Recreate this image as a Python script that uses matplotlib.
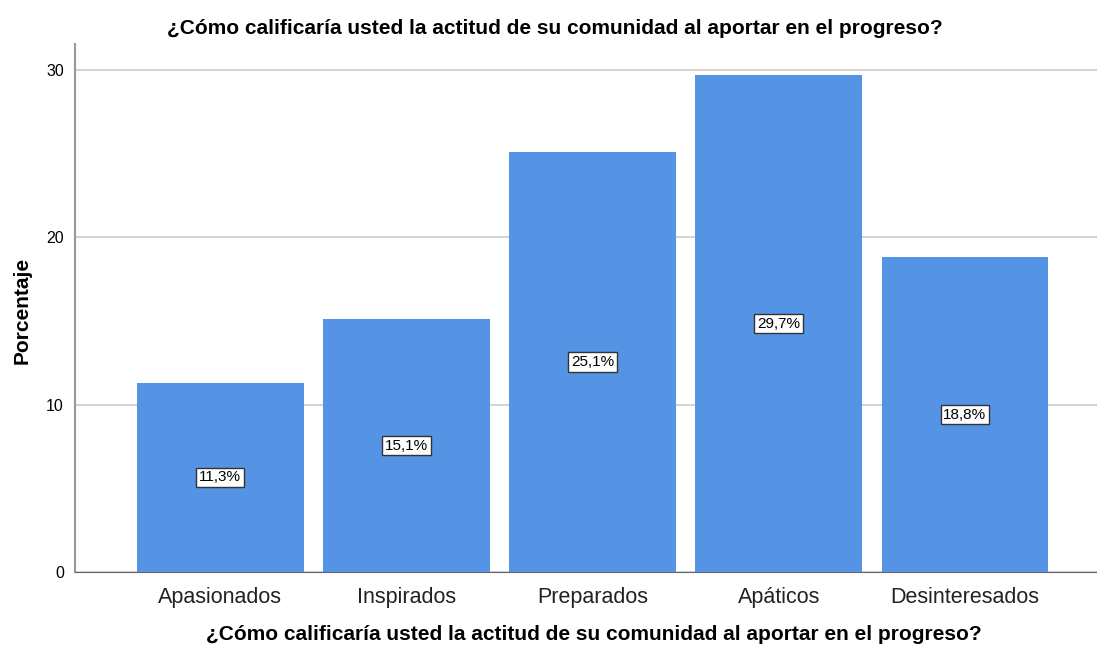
import matplotlib.pyplot as plt

categories = ['Apasionados', 'Inspirados', 'Preparados', 'Apáticos', 'Desinteresados']
percentages = [11.3, 15.1, 25.1, 29.7, 18.8]
yticks = [0, 10, 20, 30]
question = '¿Cómo calificaría usted la actitud de su comunidad al aportar en el progreso?'

plt.rcParams['font.family'] = ['Liberation Sans', 'DejaVu Sans']

fig = plt.figure(figsize=(10.97, 6.46), dpi=100)
ax = fig.add_axes([0.0684, 0.1146, 0.9316, 0.8174])

x = range(len(categories))
bars = ax.bar(x, percentages, width=0.895, color='#5594e4', zorder=3)

for xi, v in zip(x, percentages):
    label = ('%.1f%%' % v).replace('.', ',')
    ax.text(xi, v / 2, label, ha='center', va='center', fontsize=11, zorder=4,
            bbox=dict(boxstyle='square,pad=0.18', fc='white', ec='#333333', lw=1))

ax.set_xlim(-0.78, 4.71)
ax.set_ylim(0, 31.56)
ax.set_yticks(yticks)
ax.set_xticks(list(x))
ax.set_xticklabels(categories, fontsize=15.5, color='#222222')
ax.tick_params(axis='y', labelsize=11.5, length=0, pad=8)
ax.tick_params(axis='x', length=0, pad=11)
ax.grid(axis='y', color='#d4d4d4', lw=1.5, zorder=0)

for s in ['top', 'right']:
    ax.spines[s].set_visible(False)
ax.spines['left'].set_color('#999999')
ax.spines['left'].set_linewidth(1.5)
ax.spines['bottom'].set_color('#666666')

fig.text(22 / 1097, 1 - 310 / 646, 'Porcentaje', rotation=90, ha='center', va='center',
         fontsize=15, fontweight='bold')
fig.text(0.541, 1 - 634 / 646, question, ha='center', va='center', fontsize=15, fontweight='bold')
fig.text(0.506, 1 - 28 / 646, question, ha='center', va='center', fontsize=15, fontweight='bold')

plt.savefig('out.png', dpi=100)
plt.close()
